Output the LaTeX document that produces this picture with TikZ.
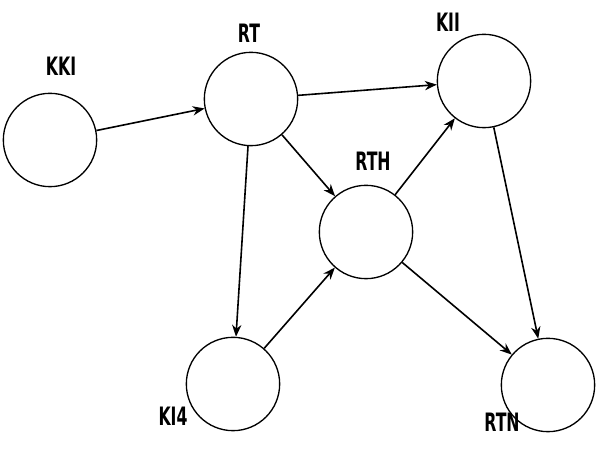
\documentclass[tikz,border=0pt]{standalone}
\usepackage{fontspec}
\setmainfont{DejaVu Sans}
\usetikzlibrary{arrows.meta}
\begin{document}
\begin{tikzpicture}[x=0.75pt,y=-0.75pt,
  state/.style={draw,circle,line width=1pt,minimum size=70pt,inner sep=0pt},
  lbl/.style={font=\bfseries\fontsize{19}{19}\selectfont,xscale=0.62,inner sep=0pt},
  edge/.style={draw,line width=1.2pt,-{Stealth[length=9pt,width=7pt]}}]
\useasboundingbox (0,0) rectangle (597,473);
\node[state] (A) at (50,140) {};
\node[state] (B) at (251,99) {};
\node[state] (C) at (484,81) {};
\node[state] (D) at (366,232) {};
\node[state] (E) at (233,384) {};
\node[state] (F) at (548,385) {};
\node[lbl] (lA) at (61,66) {KKI};
\node[lbl] (lB) at (249,33) {RT};
\node[lbl] (lC) at (448,22) {KII};
\node[lbl] (lD) at (373,161) {RTH};
\node[lbl] (lE) at (173,416) {KI4};
\node[lbl] (lF) at (502,422) {RTN};
\draw[edge] (A) -- (B);
\draw[edge] (B) -- (C);
\draw[edge] (B) -- (D);
\draw[edge] (B) -- (E);
\draw[edge] (E) -- (D);
\draw[edge] (D) -- (C);
\draw[edge] (D) -- (F);
\draw[edge] (C) -- (F);
\end{tikzpicture}
\end{document}
